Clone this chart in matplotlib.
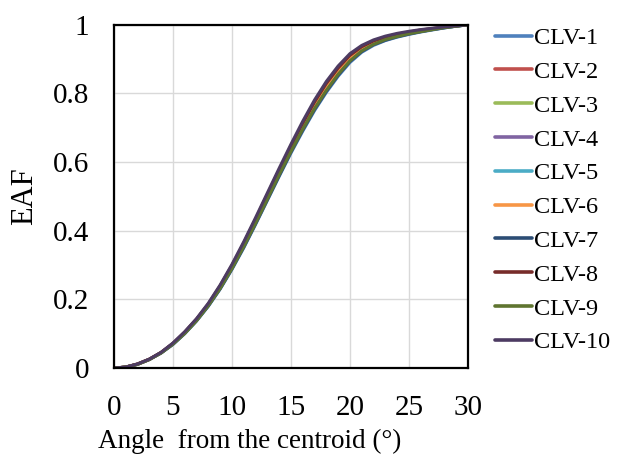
import matplotlib
matplotlib.use("Agg")
import matplotlib.pyplot as plt

plt.rcParams["font.family"] = ["Liberation Serif", "DejaVu Serif"]

# angle from the centroid (deg)
angle = list(range(0, 31))

clv1 = [0, .003, .011, .025, .044, .069, .100, .137, .180, .230, .287, .350, .418, .488, .558, .626,
        .690, .750, .803, .850, .890, .920, .940, .954, .964, .972, .979, .985, .991, .996, 1]
clv2 = [0, .003, .012, .026, .045, .071, .104, .141, .185, .237, .296, .361, .430, .501, .572, .642,
        .707, .769, .822, .868, .906, .932, .950, .962, .971, .977, .983, .988, .993, .997, 1]
clv3 = [0, .003, .011, .025, .045, .070, .102, .139, .183, .234, .292, .355, .424, .495, .565, .634,
        .699, .759, .813, .859, .898, .926, .945, .958, .967, .975, .981, .987, .992, .996, 1]
clv4 = [0, .003, .012, .026, .045, .072, .104, .142, .186, .238, .298, .363, .432, .503, .575, .644,
        .710, .772, .825, .871, .908, .934, .951, .963, .972, .978, .984, .989, .993, .997, 1]
clv5 = [0, .003, .011, .025, .045, .071, .102, .140, .184, .235, .293, .357, .426, .497, .568, .636,
        .702, .762, .816, .862, .900, .928, .946, .959, .968, .976, .982, .987, .992, .996, 1]
clv6 = [0, .003, .011, .025, .045, .071, .103, .141, .185, .236, .295, .359, .428, .499, .570, .639,
        .705, .766, .819, .865, .903, .930, .948, .961, .970, .977, .983, .988, .993, .997, 1]
clv7 = [0, .003, .011, .025, .044, .069, .101, .138, .181, .231, .289, .352, .420, .490, .560, .629,
        .693, .753, .806, .853, .893, .922, .942, .955, .965, .973, .980, .986, .991, .996, 1]
clv8 = [0, .003, .012, .026, .046, .072, .105, .143, .187, .240, .299, .364, .434, .506, .577, .647,
        .713, .775, .829, .874, .911, .936, .953, .964, .973, .979, .985, .989, .993, .997, 1]
clv9 = [0, .003, .011, .025, .044, .070, .101, .138, .182, .232, .290, .354, .422, .492, .563, .631,
        .696, .756, .809, .856, .895, .924, .943, .957, .966, .974, .980, .986, .992, .996, 1]
clv10 = [0, .003, .012, .026, .046, .073, .106, .144, .189, .242, .302, .368, .438, .510, .582, .652,
         .719, .781, .835, .880, .916, .940, .956, .967, .975, .981, .986, .990, .994, .997, 1]

series = [clv1, clv2, clv3, clv4, clv5, clv6, clv7, clv8, clv9, clv10]
labels = ["CLV-%d" % i for i in range(1, 11)]
colors = ["#4F81BD", "#C0504D", "#9BBB59", "#8064A2", "#4BACC6",
          "#F79646", "#2C4D75", "#772C2A", "#5F7530", "#4D3B62"]

fig = plt.figure(figsize=(6.19, 4.59), dpi=100)
ax = fig.add_axes([0.184, 0.198, 0.572, 0.748])

for vals, lab, col in zip(series, labels, colors):
    ax.plot(angle, vals, color=col, lw=2.2, label=lab, solid_capstyle="round")

ax.set_xlim(0, 30)
ax.set_ylim(0, 1)
ax.set_xticks([0, 5, 10, 15, 20, 25, 30])
ax.set_yticks([0, 0.2, 0.4, 0.6, 0.8, 1])
ax.set_yticklabels(["0", "0.2", "0.4", "0.6", "0.8", "1"])
ax.tick_params(length=0, labelsize=21)
ax.tick_params(axis="x", pad=19)
ax.tick_params(axis="y", pad=18)
ax.grid(True, color="#d9d9d9", lw=1)
ax.set_axisbelow(True)
for sp in ax.spines.values():
    sp.set_linewidth(1.6)
    sp.set_color("black")

ax.set_xlabel("Angle  from the centroid (°)", fontsize=19.5)
ax.xaxis.set_label_coords(0.384, -0.178)
ax.set_ylabel("EAF", fontsize=22)
ax.yaxis.set_label_coords(-0.21, 0.5)

leg = ax.legend(loc="upper left", bbox_to_anchor=(0.784, 0.962), bbox_transform=fig.transFigure,
                frameon=False, fontsize=17.5, handlelength=1.52, handletextpad=0.1,
                labelspacing=0.485, borderaxespad=0)
for h in leg.get_lines():
    h.set_linewidth(2.6)

fig.savefig("out.png", dpi=100)
